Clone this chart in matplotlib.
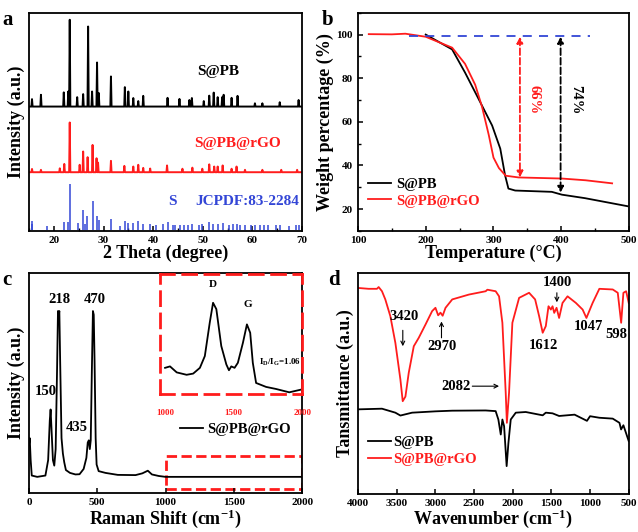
import matplotlib
matplotlib.use("Agg")
import matplotlib.pyplot as plt
from matplotlib.ticker import MultipleLocator
from matplotlib.patches import Rectangle

plt.rcParams['font.family'] = ['Liberation Serif', 'DejaVu Serif']
plt.rcParams['font.weight'] = 'bold'
plt.rcParams['axes.labelweight'] = 'bold'
plt.rcParams['mathtext.default'] = 'regular'
plt.rcParams['axes.linewidth'] = 1.3

RED = '#ff1c1c'
BLUE = '#3346d6'

# ---- (a) XRD: peak positions (deg) and peak levels (panel units 0-100)
pb_pos = [15.6, 17.4, 22.0, 22.9, 23.2, 24.7, 25.9, 26.9, 27.7, 28.7, 29.05, 31.5,
          34.3, 35.0, 36.0, 37.0, 38.0, 42.9, 45.3, 47.3, 47.8, 50.2, 51.3, 52.2,
          53.0, 53.9, 54.2, 55.8, 57.0, 60.5, 62.0, 65.5, 69.3]
pb_hgt = [60.4, 62.4, 63.5, 63.9, 96.8, 61.3, 62.7, 93.7, 63.9, 77.2, 63.2, 70.8,
          65.9, 63.9, 60.9, 59.5, 61.9, 61.0, 60.5, 60.0, 60.9, 59.5, 62.0, 63.4,
          61.3, 61.3, 62.4, 61.0, 61.9, 58.5, 58.5, 59.0, 60.0]
pb_base = 57.0

rgo_pos = [15.6, 17.4, 21.2, 22.1, 23.2, 25.2, 25.9, 26.8, 27.8, 28.6, 28.9, 31.5,
           34.2, 36.0, 37.0, 38.0, 39.4, 42.8, 45.9, 47.9, 49.9, 51.3, 52.3, 53.0,
           54.0, 55.8, 56.8, 58.5, 62.0, 65.8, 69.0]
rgo_hgt = [28.4, 28.0, 28.7, 30.7, 49.7, 30.3, 36.4, 33.8, 39.4, 33.3, 31.3, 32.1,
           29.8, 29.5, 30.3, 28.9, 28.6, 30.0, 28.5, 29.0, 28.5, 30.5, 29.5, 29.5,
           30.0, 28.5, 29.5, 28.0, 28.0, 28.0, 28.0]
rgo_base = 26.9

ref_pos = [15.5, 15.6, 18.6, 22.0, 22.9, 23.2, 24.9, 25.9, 26.3, 26.7, 27.8, 28.7,
           29.0, 31.5, 33.4, 34.3, 35.0, 36.0, 37.0, 38.0, 39.4, 40.6, 42.0, 42.9,
           43.9, 44.4, 45.5, 46.2, 47.0, 47.8, 49.3, 49.9, 51.3, 52.0, 53.0, 54.0,
           55.3, 56.0, 56.8, 57.4, 58.5, 59.8, 60.6, 61.5, 62.3, 63.2, 64.7, 65.6,
           67.3, 68.7, 69.4]
ref_hgt = [4.7, 3.0, 2.4, 4.3, 4.3, 21.6, 3.6, 9.6, 3.0, 6.9, 13.8, 6.6,
           5.1, 5.4, 2.4, 4.7, 3.6, 3.6, 4.7, 3.0, 3.0, 2.6, 3.0, 4.0,
           2.5, 2.5, 2.8, 2.6, 2.6, 3.0, 2.5, 3.0, 4.0, 3.3, 3.3, 3.5,
           2.8, 3.0, 3.3, 2.8, 2.5, 2.5, 2.5, 2.5, 2.5, 2.5, 2.5, 2.8,
           2.4, 2.5, 2.5]

# ---- (b) TGA
tga_pb_t = [200, 239, 258, 278, 298, 310, 317, 322, 332, 386, 401, 435, 498]
tga_pb_w = [100, 93.2, 82.6, 70.5, 58.3, 47.7, 35.6, 29.4, 28.5, 27.9, 26.6, 25.0, 21.3]
tga_rgo_t = [116, 150, 170, 200, 239, 258, 273, 283, 293, 300, 308, 318, 337, 401, 436, 475]
tga_rgo_w = [100.2, 100.1, 100.4, 99.0, 94.0, 86.6, 77.0, 67.0, 54.0, 43.6, 38.8, 35.3,
             34.5, 34.0, 33.2, 31.8]

# ---- (c) Raman
raman_x = [0, 5, 12, 20, 60, 120, 140, 152, 158, 164, 175, 185, 195, 205, 212, 218, 222,
           228, 238, 248, 258, 270, 300, 340, 370, 400, 420, 430, 438, 445, 452, 460,
           468, 474, 480, 488, 495, 510, 560, 650, 780, 830, 870, 900, 950, 1000, 2000]
raman_y = [22, 25, 15, 8, 7.4, 8, 15, 33, 38, 30, 15, 12.5, 20, 55, 82.7, 81, 82.7,
           60, 25, 18, 14, 10.5, 9.2, 8.5, 8.6, 11, 16, 23, 24, 20, 24, 55,
           82.7, 81, 60, 25, 13, 10, 9.2, 8.3, 8.2, 9, 10.2, 8.5, 7.8, 7.4, 7.4]
inset_x = [1000, 1036, 1085, 1157, 1205, 1254, 1290, 1326, 1350, 1374, 1410, 1447,
           1466, 1483, 1507, 1531, 1568, 1597, 1621, 1640, 1664, 1737, 1809, 1906, 1990]
inset_y = [21.8, 23, 18, 16, 17, 21.8, 31.6, 59.5, 76, 70.7, 40, 24.6,
           19.8, 23, 21.8, 26, 42.7, 58, 51, 26, 9.2, 5.9, 4.2, 1.4, 3.6]

# ---- (d) FTIR
ir_rgo_x = [4000, 3862, 3754, 3732, 3689, 3646, 3581, 3516, 3451, 3421, 3386, 3343,
            3278, 3214, 3127, 3041, 2998, 2963, 2933, 2905, 2868, 2781, 2565, 2349,
            2327, 2220, 2176, 2133, 2090, 2075, 2047, 2004, 1917, 1788, 1710, 1658,
            1612, 1572, 1537, 1507, 1485, 1463, 1433, 1400, 1356, 1291, 1183, 1096,
            1047, 967, 880, 707, 642, 598, 569, 534, 500]
ir_rgo_y = [93.2, 92.8, 92.8, 93.6, 91.7, 88, 80.4, 68.3, 51.7, 41.9, 44, 54.8,
            66.8, 70.6, 76.6, 82.7, 84.2, 80.8, 82, 80.6, 84.2, 88, 90.2, 91.7,
            92.4, 91.7, 89.4, 77.4, 45.7, 32.1, 45.7, 77.4, 88.7, 91, 88, 80.4,
            72.9, 75.9, 84.9, 83.4, 84.9, 81.9, 84.2, 79.6, 86.4, 89.4, 86.4, 83.4,
            79.6, 86.4, 92.8, 92.5, 91, 77.4, 91, 91.7, 86.4]
ir_pb_x = [4000, 3689, 3516, 3451, 3300, 2998, 2781, 2349, 2220, 2185, 2154, 2133,
           2111, 2078, 2055, 2025, 1960, 1831, 1612, 1572, 1485, 1400, 1200, 1040,
           1000, 880, 707, 620, 599, 569, 500]
ir_pb_y = [38.2, 38.5, 36.7, 35.4, 36.7, 37.3, 37.6, 37.7, 37.4, 33.6, 26.8, 33.6,
           30.6, 12.5, 23, 33.6, 36.7, 37, 35.5, 36.7, 36.4, 35.2, 35.8, 33.0,
           35.1, 34.4, 34.0, 32.1, 29.1, 31.0, 23.8]


def spikes(pos, hgt, base, w=0.12):
    xs, ys = [15.0], [base]
    for p, h in sorted(zip(pos, hgt)):
        xs += [p - w, p, p + w]
        ys += [base, h, base]
    xs.append(70.0)
    ys.append(base)
    return xs, ys


fig = plt.figure(figsize=(6.38, 5.32), dpi=100)
axa = fig.add_axes([0.0455, 0.566, 0.428, 0.41])
axb = fig.add_axes([0.561, 0.566, 0.425, 0.41])
axc = fig.add_axes([0.0455, 0.073, 0.428, 0.414])
axd = fig.add_axes([0.561, 0.072, 0.4245, 0.415])

for ax in (axa, axb, axc, axd):
    ax.tick_params(direction='in', labelsize=8, width=1.1, length=3.5)
    ax.tick_params(which='minor', direction='in', width=1, length=2)

# (a)
x, y = spikes(pb_pos, pb_hgt, pb_base)
axa.plot(x, y, color='black', lw=1.4)
x, y = spikes(rgo_pos, rgo_hgt, rgo_base)
axa.plot(x, y, color=RED, lw=1.4)
axa.vlines(ref_pos, 0.5, ref_hgt, color=BLUE, lw=1.1)
axa.set_xlim(15, 70)
axa.set_ylim(0, 100)
axa.set_yticks([])
axa.xaxis.set_major_locator(MultipleLocator(10))
axa.xaxis.set_minor_locator(MultipleLocator(5))
axa.set_xlabel('2 Theta (degree)', fontsize=13, labelpad=0)
axa.set_ylabel('Intensity (a.u.)', fontsize=13, labelpad=3)
axa.text(53, 73, 'S@PB', fontsize=11, ha='center', va='center')
axa.text(57, 40, 'S@PB@rGO', fontsize=11, ha='center', va='center', color=RED)
axa.text(43.8, 13.3, 'S', fontsize=11, ha='center', va='center', color=BLUE)
axa.text(59, 13.3, 'JCPDF:83-2284', fontsize=11, ha='center', va='center', color=BLUE)

# (b)
axb.plot(tga_pb_t, tga_pb_w, color='black', lw=1.3, label='S@PB')
axb.plot(tga_rgo_t, tga_rgo_w, color=RED, lw=1.3, label='S@PB@rGO')
axb.plot([175, 443], [99.2, 99.2], color=BLUE, lw=1.3, dashes=(5, 4))
axb.annotate('', xy=(339, 34.5), xytext=(339, 99),
             arrowprops=dict(arrowstyle='<|-|>', color=RED, lw=1.3, linestyle='--',
                             mutation_scale=9, shrinkA=0, shrinkB=0))
axb.annotate('', xy=(399, 27.5), xytext=(399, 99),
             arrowprops=dict(arrowstyle='<|-|>', color='black', lw=1.3, linestyle='--',
                             mutation_scale=9, shrinkA=0, shrinkB=0))
axb.text(360, 70, '66%', rotation=270, color=RED, fontsize=10.5, ha='center', va='center')
axb.text(421, 70, '74%', rotation=270, color='black', fontsize=10.5, ha='center', va='center')
axb.set_xlim(100, 500)
axb.set_ylim(10, 110)
axb.xaxis.set_major_locator(MultipleLocator(100))
axb.xaxis.set_minor_locator(MultipleLocator(50))
axb.yaxis.set_major_locator(MultipleLocator(20))
axb.yaxis.set_minor_locator(MultipleLocator(10))
axb.set_xlabel('Temperature (°C)', fontsize=13, labelpad=0)
axb.set_ylabel('Weight percentage (%)', fontsize=13, labelpad=2)
leg = axb.legend(loc='lower left', bbox_to_anchor=(0.0, 0.06), frameon=False, fontsize=10.5,
                 handlelength=1.6, handletextpad=0.3, labelspacing=0.25, borderaxespad=0.3)
for t, c in zip(leg.get_texts(), ['black', RED]):
    t.set_color(c)

# (c)
axc.plot(raman_x, raman_y, color='black', lw=1.3, label='S@PB@rGO')
axc.add_patch(Rectangle((1000, 1.7), 1000, 15.1, fill=False, ec=RED, ls='--', lw=2))
axc.set_xlim(0, 2000)
axc.set_ylim(0, 100)
axc.set_yticks([])
axc.xaxis.set_major_locator(MultipleLocator(500))
axc.set_xlabel('Raman Shift (cm$^{-1}$)', fontsize=13, labelpad=0)
axc.set_ylabel('Intensity (a.u.)', fontsize=13, labelpad=3)
for xv, yv, s in [(123, 46, '150'), (221, 88, '218'), (480, 88, '470'), (350, 29.7, '435')]:
    axc.text(xv, yv, s, fontsize=10.5, ha='center', va='center')
axc.legend(loc='center left', bbox_to_anchor=(0.53, 0.29), frameon=False, fontsize=10.5,
           handlelength=1.6, handletextpad=0.3, borderaxespad=0)

axi = fig.add_axes([0.251, 0.2594, 0.2226, 0.2256])
axi.plot(inset_x, inset_y, color='black', lw=1.3)
axi.set_xlim(964, 2000)
axi.set_ylim(0, 100)
axi.set_yticks([])
axi.set_xticks([1000, 1500, 2000])
axi.tick_params(length=0, labelsize=6.5, labelcolor=RED, pad=11)
axi.patch.set_alpha(0)
for sp in axi.spines.values():
    sp.set_color(RED)
    sp.set_linestyle((0, (5, 3)))
    sp.set_linewidth(2)
axi.text(1350, 91.6, 'D', fontsize=8, ha='center', va='center')
axi.text(1604, 74.9, 'G', fontsize=8, ha='center', va='center')
axi.text(1688, 26, 'I$_D$/I$_G$=1.06', fontsize=6.5, ha='left', va='center', clip_on=True)

# (d)
axd.plot(ir_pb_x, ir_pb_y, color='black', lw=1.3, label='S@PB')
axd.plot(ir_rgo_x, ir_rgo_y, color=RED, lw=1.3, label='S@PB@rGO')
axd.set_xlim(4000, 500)
axd.set_ylim(0, 100)
axd.set_yticks([])
axd.xaxis.set_major_locator(MultipleLocator(500))
axd.set_xlabel('Wavenumber (cm$^{-1}$)', fontsize=13, labelpad=0)
axd.set_ylabel('Tansmittance (a.u.)', fontsize=13, labelpad=3)
arrow = dict(arrowstyle='->', color='black', lw=0.8, mutation_scale=7, shrinkA=0, shrinkB=0)
axd.annotate('', xy=(3420, 66.8), xytext=(3420, 74), arrowprops=arrow)
axd.annotate('', xy=(2920, 78), xytext=(2920, 70.6), arrowprops=arrow)
axd.annotate('', xy=(2176, 48.7), xytext=(2522, 48.7), arrowprops=arrow)
axd.annotate('', xy=(1429, 86.7), xytext=(1429, 91), arrowprops=arrow)
for xv, yv, s in [(3408, 80.4, '3420'), (2911, 66.8, '2970'), (2738, 48.7, '2082'),
                  (1606, 67.1, '1612'), (1420, 95.8, '1400'), (1019, 75.9, '1047'),
                  (664, 72, '598')]:
    axd.text(xv, yv, s, fontsize=10.5, ha='center', va='center')
leg = axd.legend(loc='lower left', bbox_to_anchor=(0.0, 0.08), frameon=False, fontsize=10.5,
                 handlelength=1.6, handletextpad=0.1, labelspacing=0.25, borderaxespad=0.3)
for t, c in zip(leg.get_texts(), ['black', RED]):
    t.set_color(c)

fig.text(0.004, 0.982, 'a', fontsize=15, va='top')
fig.text(0.505, 0.982, 'b', fontsize=15, va='top')
fig.text(0.004, 0.492, 'c', fontsize=15, va='top')
fig.text(0.514, 0.492, 'd', fontsize=15, va='top')

fig.savefig('out.png', dpi=100)
